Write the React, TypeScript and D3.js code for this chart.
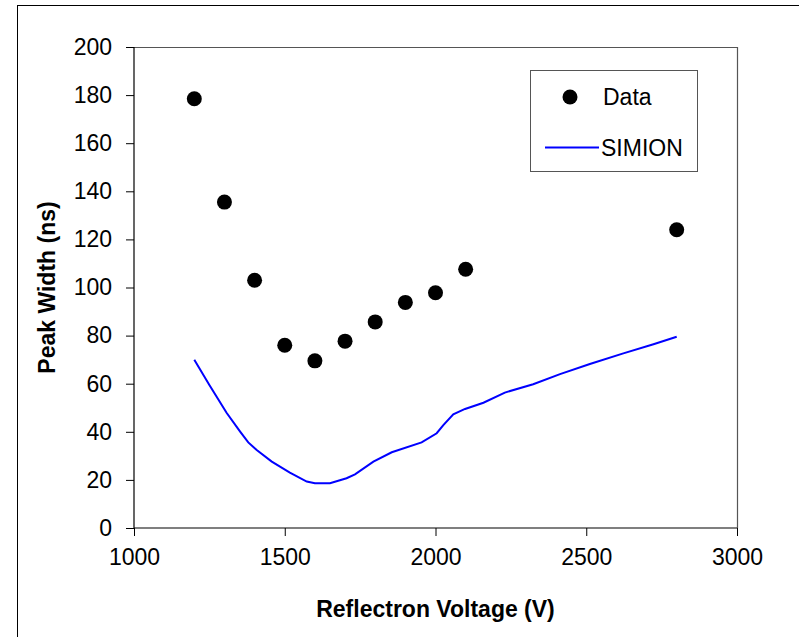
import React, { useRef, useEffect } from 'react'
import * as d3 from 'd3'

// measured points (reflectron voltage V, peak width ns)
const dataVoltage = [1200, 1300, 1400, 1500, 1600, 1700, 1800, 1900, 2000, 2100, 2800]
const dataWidth = [178.5, 135.5, 103, 76, 69.5, 77.7, 85.7, 93.8, 97.8, 107.6, 124]

// SIMION simulation curve
const simVoltage = [1200, 1250, 1307, 1352, 1379, 1407, 1457, 1517, 1573, 1600, 1650, 1705, 1733, 1794, 1855, 1954, 2004, 2026, 2059, 2098, 2159, 2230, 2324, 2413, 2512, 2623, 2723, 2800]
const simWidth = [70, 59.5, 47.9, 40.1, 35.6, 32.4, 27.6, 23, 19.3, 18.6, 18.6, 20.7, 22.3, 27.6, 31.5, 35.6, 39.4, 42.8, 47.3, 49.5, 52.1, 56.3, 59.8, 64, 68.2, 72.6, 76.4, 79.5]

const xTicks = [1000, 1500, 2000, 2500, 3000]
const yTicks = [0, 20, 40, 60, 80, 100, 120, 140, 160, 180, 200]

const W = 799
const H = 637
const margin = { left: 134, right: 62, top: 47, bottom: 109 }
const FONT = 'Liberation Sans, Arial, sans-serif'
const FS = 23

const App = () => {
  const svgRef = useRef<SVGSVGElement>(null)

  useEffect(() => {
    const svg = d3.select(svgRef.current)
    svg.selectAll('*').remove()

    const x = d3.scaleLinear().domain([1000, 3000]).range([margin.left, W - margin.right])
    const y = d3.scaleLinear().domain([0, 200]).range([H - margin.bottom, margin.top])

    // outer chart frame (right/bottom lie outside the picture)
    svg.append('rect')
      .attr('x', 17.5).attr('y', 5.5)
      .attr('width', 800).attr('height', 700)
      .attr('fill', 'white').attr('stroke', '#000').attr('stroke-width', 1)

    // plot area top + right border
    svg.append('path')
      .attr('d', `M${x(1000)},${y(200) + 0.5}H${x(3000) + 0.5}V${y(0)}`)
      .attr('fill', 'none').attr('stroke', '#555').attr('stroke-width', 1.2)

    const xAxis = svg.append('g')
      .attr('transform', `translate(0,${y(0)})`)
      .call(d3.axisBottom(x).tickValues(xTicks).tickSize(8).tickPadding(13).tickFormat(d3.format('d')))
    const yAxis = svg.append('g')
      .attr('transform', `translate(${x(1000)},0)`)
      .call(d3.axisLeft(y).tickValues(yTicks).tickSize(8).tickPadding(14).tickFormat(d3.format('d')))

    for (const ax of [xAxis, yAxis]) {
      ax.select('.domain').attr('stroke', '#000').attr('stroke-width', 1.2)
      ax.selectAll('.tick line').attr('stroke', '#000')
      ax.selectAll('.tick text').attr('font-family', FONT).attr('font-size', FS).attr('fill', '#000')
    }
    xAxis.select('.domain').attr('d', `M${x(1000)},0H${x(3000)}`)
    yAxis.select('.domain').attr('d', `M0,${y(0)}V${y(200)}`)

    // SIMION line
    const line = d3.line<number>()
      .x((_, i) => x(simVoltage[i]))
      .y(d => y(d))
    svg.append('path')
      .datum(simWidth)
      .attr('d', line)
      .attr('fill', 'none')
      .attr('stroke', '#0000ff')
      .attr('stroke-width', 2)

    // data points
    svg.append('g')
      .selectAll('circle')
      .data(dataWidth)
      .join('circle')
      .attr('cx', (_, i) => x(dataVoltage[i]))
      .attr('cy', d => y(d))
      .attr('r', 7.5)
      .attr('fill', '#000')

    // axis titles
    svg.append('text')
      .attr('x', (x(1000) + x(3000)) / 2).attr('y', 617)
      .attr('text-anchor', 'middle')
      .attr('font-family', FONT).attr('font-size', FS).attr('font-weight', 'bold')
      .text('Reflectron Voltage (V)')
    svg.append('text')
      .attr('transform', `translate(55,${(y(0) + y(200)) / 2}) rotate(-90)`)
      .attr('text-anchor', 'middle')
      .attr('font-family', FONT).attr('font-size', FS).attr('font-weight', 'bold')
      .text('Peak Width (ns)')

    // legend
    const lg = svg.append('g')
    lg.append('rect')
      .attr('x', 530.5).attr('y', 70.5).attr('width', 167).attr('height', 101)
      .attr('fill', 'white').attr('stroke', '#555').attr('stroke-width', 1)
    lg.append('circle').attr('cx', 570).attr('cy', 97).attr('r', 7.5).attr('fill', '#000')
    lg.append('text').attr('x', 603).attr('y', 104.5)
      .attr('font-family', FONT).attr('font-size', FS).text('Data')
    lg.append('line').attr('x1', 545).attr('x2', 599).attr('y1', 147.5).attr('y2', 147.5)
      .attr('stroke', '#0000ff').attr('stroke-width', 2)
    lg.append('text').attr('x', 601).attr('y', 155.5)
      .attr('font-family', FONT).attr('font-size', FS).text('SIMION')
  }, [])

  return (
    <svg ref={svgRef} width={W} height={H}
      style={{ position: 'absolute', left: 0, top: 0, background: 'white' }} />
  )
}

export default App
